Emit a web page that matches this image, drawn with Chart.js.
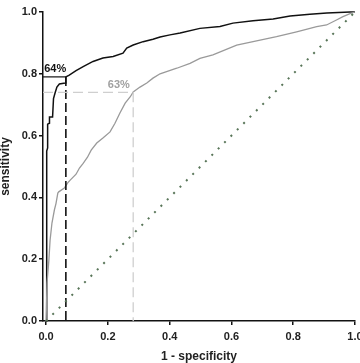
<!DOCTYPE html>
<html>
<head>
<meta charset="utf-8">
<script src="https://cdn.jsdelivr.net/npm/chart.js@4"></script>
<style>
  html, body { margin: 0; padding: 0; background: #fff; }
</style>
</head>
<body>
<canvas id="roc" width="360" height="363"></canvas>
<script>
// tick labels on both axes
const tickValues = [0, 0.2, 0.4, 0.6, 0.8, 1.0];

// ROC curve 1 (black): 1 - specificity / sensitivity
const blackFpr = [0, 0.002, 0.005, 0.005, 0.011, 0.011, 0.021, 0.024, 0.029, 0.035, 0.043, 0.062, 0.064, 0.075, 0.097, 0.12, 0.152, 0.184, 0.217, 0.249, 0.261, 0.282, 0.314, 0.346, 0.369, 0.401, 0.434, 0.498, 0.563, 0.605, 0.67, 0.735, 0.79, 0.854, 0.909, 0.984, 1];
const blackSens = [0, 0.55, 0.56, 0.637, 0.64, 0.66, 0.66, 0.72, 0.738, 0.757, 0.767, 0.77, 0.79, 0.796, 0.81, 0.823, 0.84, 0.851, 0.856, 0.867, 0.883, 0.893, 0.904, 0.912, 0.919, 0.926, 0.932, 0.947, 0.953, 0.964, 0.972, 0.977, 0.987, 0.993, 0.997, 1.0, 1];

// ROC curve 2 (grey)
const greyFpr = [0, 0.003, 0.009, 0.013, 0.019, 0.027, 0.032, 0.038, 0.041, 0.059, 0.07, 0.078, 0.097, 0.108, 0.12, 0.134, 0.146, 0.164, 0.184, 0.207, 0.223, 0.239, 0.256, 0.272, 0.282, 0.304, 0.326, 0.346, 0.369, 0.39, 0.423, 0.466, 0.498, 0.54, 0.617, 0.67, 0.746, 0.811, 0.876, 0.908, 0.94, 0.961, 0.984, 1];
const greySens = [0, 0.123, 0.197, 0.262, 0.317, 0.36, 0.38, 0.414, 0.418, 0.43, 0.447, 0.456, 0.475, 0.495, 0.51, 0.53, 0.553, 0.576, 0.592, 0.612, 0.64, 0.673, 0.705, 0.725, 0.741, 0.757, 0.77, 0.786, 0.8, 0.807, 0.818, 0.834, 0.85, 0.861, 0.893, 0.904, 0.92, 0.936, 0.953, 0.958, 0.974, 0.985, 0.995, 1];

// cut-off points (1 - specificity, sensitivity) and their labels
const cutBlack = [0.064, 0.79];
const cutGrey = [0.282, 0.74];
const cutLabels = ['64%', '63%'];

const xMin = -0.01;

function pts(xs, ys) {
  return xs.map((x, i) => ({ x: x, y: ys[i] }));
}

// draws the percentage labels next to the cut-off lines
const labelPlugin = {
  id: 'cutLabels',
  afterDatasetsDraw(chart, args, opts) {
    const ctx = chart.ctx;
    const xs = chart.scales.x, ys = chart.scales.y;
    ctx.save();
    ctx.font = 'bold 11px "Liberation Sans", Arial, sans-serif';
    ctx.textBaseline = 'middle';
    ctx.textAlign = 'left';
    opts.items.forEach(it => {
      ctx.fillStyle = it.color;
      ctx.fillText(it.text, xs.getPixelForValue(it.x), ys.getPixelForValue(it.y));
    });
    ctx.restore();
  }
};

const tickFont = { family: '"Liberation Sans", Arial, sans-serif', size: 11, weight: 'bold' };
const titleFont = { family: '"Liberation Sans", Arial, sans-serif', size: 12, weight: 'bold', lineHeight: 1 };

new Chart(document.getElementById('roc'), {
  type: 'line',
  data: {
    datasets: [
      {
        // reference diagonal
        data: [{ x: 0, y: 0 }, { x: 1, y: 1 }],
        borderColor: '#587558',
        borderWidth: 2,
        borderDash: [2, 7],
        pointRadius: 0
      },
      {
        data: [{ x: xMin, y: cutGrey[1] }, { x: cutGrey[0], y: cutGrey[1] }, { x: cutGrey[0], y: 0 }],
        borderColor: '#cfcfcf',
        borderWidth: 1.3,
        borderDash: [10, 5],
        pointRadius: 0
      },
      {
        data: [{ x: xMin, y: cutBlack[1] }, { x: cutBlack[0], y: cutBlack[1] }],
        borderColor: '#111',
        borderWidth: 1.2,
        pointRadius: 0
      },
      {
        data: [{ x: cutBlack[0], y: cutBlack[1] }, { x: cutBlack[0], y: 0 }],
        borderColor: '#111',
        borderWidth: 1.6,
        borderDash: [9, 4],
        pointRadius: 0
      },
      {
        data: pts(greyFpr, greySens),
        borderColor: '#9a9a9a',
        borderWidth: 1.3,
        pointRadius: 0
      },
      {
        data: pts(blackFpr, blackSens),
        borderColor: '#111',
        borderWidth: 1.5,
        pointRadius: 0
      }
    ]
  },
  options: {
    responsive: false,
    animation: false,
    devicePixelRatio: 1,
    clip: false,
    layout: { padding: { top: 12, right: 5, left: 0, bottom: 0 } },
    plugins: {
      legend: { display: false },
      tooltip: { enabled: false },
      cutLabels: {
        items: [
          { text: cutLabels[0], x: -0.006, y: 0.816, color: '#111' },
          { text: cutLabels[1], x: 0.2, y: 0.764, color: '#a0a0a0' }
        ]
      }
    },
    scales: {
      x: {
        type: 'linear',
        min: xMin,
        max: 1,
        afterBuildTicks: s => { s.ticks = tickValues.map(v => ({ value: v })); },
        afterFit: s => { s.height = 42; s.paddingLeft = 0; s.paddingRight = 0; },
        border: { display: true, color: '#111', width: 1.5 },
        grid: { drawOnChartArea: false, drawTicks: true, tickLength: 4, color: '#111', lineWidth: 1.5 },
        ticks: { font: tickFont, color: '#222', padding: 5, maxRotation: 0, callback: v => v.toFixed(1) },
        title: { display: true, text: '1 - specificity', font: titleFont, color: '#222', padding: { top: 1, bottom: 0 } }
      },
      y: {
        type: 'linear',
        min: 0,
        max: 1,
        afterBuildTicks: s => { s.ticks = tickValues.map(v => ({ value: v })); },
        afterFit: s => { s.width = 43; },
        border: { display: true, color: '#111', width: 1.5 },
        grid: { drawOnChartArea: false, drawTicks: true, tickLength: 4, color: '#111', lineWidth: 1.5 },
        ticks: { font: tickFont, color: '#222', padding: 2, callback: v => v.toFixed(1) },
        title: { display: true, text: 'sensitivity', font: titleFont, color: '#222', padding: { top: 0, bottom: 0 } }
      }
    }
  },
  plugins: [labelPlugin]
});
</script>
</body>
</html>
